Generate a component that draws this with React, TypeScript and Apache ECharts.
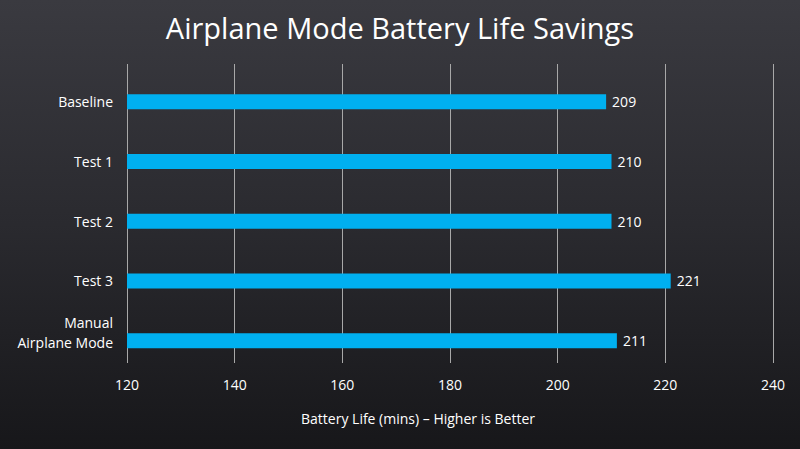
import React, { useEffect, useRef } from "react";
import * as echarts from "echarts";

const categories = ["Baseline", "Test 1", "Test 2", "Test 3", "Manual\nAirplane Mode"];
const values = [209, 210, 210, 221, 211];
const xMin = 120;
const xMax = 240;
const xInterval = 20;
const titleText = "Airplane Mode Battery Life Savings";
const axisTitle = "Battery Life (mins) \u2013 Higher is Better";

export default function App() {
  const ref = useRef<HTMLDivElement>(null);
  useEffect(() => {
    if (!ref.current) return;
    const chart = echarts.init(ref.current, null, { renderer: "svg" });
    const font = "'Open Sans', sans-serif";
    chart.setOption({
      animation: false,
      backgroundColor: {
        type: "linear",
        x: 0, y: 0, x2: 0, y2: 1,
        colorStops: [
          { offset: 0, color: "#3a3a40" },
          { offset: 0.5, color: "#2a2a2f" },
          { offset: 1, color: "#17171a" },
        ],
      },
      title: {
        text: titleText,
        left: "center",
        top: 8,
        textStyle: { color: "#ffffff", fontSize: 29, fontWeight: "normal", fontFamily: font },
      },
      grid: [
        { left: 127, right: 27, top: 72, height: 298.5, containLabel: false },
        { left: 127, right: 27, top: 64, height: 299, containLabel: false },
      ],
      xAxis: [
        {
          type: "value", gridIndex: 0, min: xMin, max: xMax, interval: xInterval,
          axisLine: { show: false }, axisTick: { show: false },
          axisLabel: { show: false }, splitLine: { show: false },
        },
        {
          type: "value", gridIndex: 1, min: xMin, max: xMax, interval: xInterval,
          axisLine: { show: false }, axisTick: { show: false },
          axisLabel: { color: "#ffffff", fontSize: 14, fontFamily: font, margin: 14 },
          splitLine: { show: true, lineStyle: { color: "#a8a8a8", width: 1 } },
        },
      ],
      yAxis: [
        {
          type: "category", gridIndex: 0, data: categories, inverse: true,
          axisLine: { show: false }, axisTick: { show: false },
          axisLabel: {
            color: "#ffffff", fontSize: 14, fontFamily: font, margin: 14, align: "right",
            formatter: (v: string) => {
              const lines = v.split("\n");
              if (lines.length === 1) return v;
              return lines.map((l) => "{a|" + l + "}").join("\n") + "\n{s|}";
            },
            rich: {
              a: { color: "#ffffff", fontSize: 14, fontFamily: font, lineHeight: 20, align: "right" },
              s: { fontSize: 1, lineHeight: 16 },
            },
          },
        },
        {
          type: "category", gridIndex: 1, data: categories, show: false,
        },
      ],
      graphic: [
        {
          type: "text", x: 418, y: 418,
          style: {
            text: axisTitle, fill: "#ffffff", fontSize: 14, fontFamily: font,
            textAlign: "center", textVerticalAlign: "middle",
          },
        },
      ],
      series: [
        {
          type: "bar", xAxisIndex: 0, yAxisIndex: 0, data: values, barWidth: 15,
          itemStyle: { color: "#00b0f0" },
          label: { show: true, position: "right", color: "#ffffff", fontSize: 14, fontFamily: font, distance: 6 },
        },
      ],
    });
    return () => chart.dispose();
  }, []);
  return <div ref={ref} style={{ width: 800, height: 449, position: "fixed", left: 0, top: 0 }} />;
}
